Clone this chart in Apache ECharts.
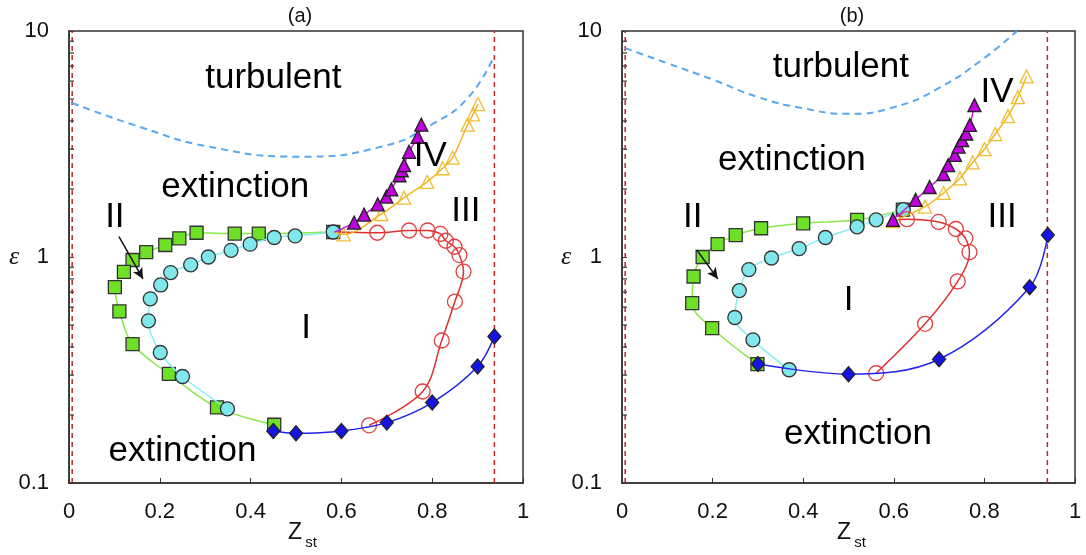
<!DOCTYPE html>
<html>
<head>
<meta charset="utf-8">
<script src="https://cdn.jsdelivr.net/npm/echarts@6/dist/echarts.min.js"></script>
<style>
  html, body { margin: 0; background: #fff; }
  #main { width: 1086px; height: 555px; }
</style>
</head>
<body>
<div id="main"></div>
<script>
// ---- panel (a) data: [Z_st, epsilon] ----
let squaresA = [[0.582, 1.29], [0.418, 1.27], [0.365, 1.27], [0.281, 1.28], [0.243, 1.21], [0.212, 1.13],
  [0.170, 1.05], [0.140, 0.97], [0.121, 0.86], [0.101, 0.735], [0.111, 0.575], [0.140, 0.412],
  [0.220, 0.304], [0.326, 0.216], [0.452, 0.181]];
let circlesA = [[0.582, 1.29], [0.498, 1.24], [0.452, 1.22], [0.399, 1.14], [0.357, 1.07], [0.307, 1.0],
  [0.268, 0.923], [0.224, 0.853], [0.202, 0.752], [0.179, 0.653], [0.175, 0.522], [0.201, 0.378],
  [0.250, 0.296], [0.349, 0.213]];
let openCirclesA = [[0.679, 1.28], [0.749, 1.31], [0.790, 1.31], [0.818, 1.265], [0.830, 1.18], [0.849, 1.11],
  [0.860, 1.02], [0.869, 0.862], [0.850, 0.635], [0.821, 0.427], [0.779, 0.254], [0.661, 0.180]];
let trianglesA = [[0.628, 1.42], [0.650, 1.54], [0.680, 1.71], [0.699, 1.85], [0.710, 1.99], [0.728, 2.30],
  [0.733, 2.42], [0.738, 2.55], [0.749, 2.92], [0.768, 3.40], [0.776, 3.85]];
let openTrianglesA = [[0.605, 1.26], [0.688, 1.55], [0.738, 1.83], [0.789, 2.15], [0.823, 2.47], [0.845, 2.75],
  [0.878, 3.85], [0.890, 4.28], [0.901, 4.75]];
let diamondsA = [[0.45, 0.170], [0.5, 0.166], [0.6, 0.170], [0.7, 0.185], [0.8, 0.227], [0.9, 0.328], [0.937, 0.445]];
let turbA = [[0.007, 4.8], [0.155, 3.77], [0.307, 3.08], [0.506, 2.78], [0.689, 3.08], [0.803, 3.9], [0.880, 5.1], [0.937, 7.8]];
let junctionA = [0.585, 1.29];
let limitsA = [0.007, 0.937];

// ---- panel (b) data ----
let squaresB = [[0.620, 1.62], [0.519, 1.46], [0.400, 1.41], [0.307, 1.34], [0.251, 1.25], [0.211, 1.14],
  [0.178, 1.00], [0.158, 0.82], [0.155, 0.625], [0.199, 0.484], [0.299, 0.336]];
let circlesB = [[0.621, 1.62], [0.561, 1.46], [0.519, 1.36], [0.449, 1.22], [0.391, 1.09], [0.330, 0.99],
  [0.280, 0.88], [0.259, 0.71], [0.249, 0.54], [0.289, 0.43], [0.369, 0.317]];
let openCirclesB = [[0.629, 1.47], [0.699, 1.43], [0.737, 1.33], [0.758, 1.21], [0.767, 1.05], [0.741, 0.78],
  [0.669, 0.506], [0.561, 0.306]];
let trianglesB = [[0.598, 1.46], [0.648, 1.79], [0.679, 2.04], [0.710, 2.33], [0.720, 2.55], [0.735, 2.83],
  [0.743, 3.08], [0.751, 3.29], [0.760, 3.52], [0.768, 3.84], [0.778, 4.70]];
let openTrianglesB = [[0.598, 1.44], [0.669, 1.67], [0.710, 1.92], [0.746, 2.23], [0.774, 2.62], [0.800, 3.0],
  [0.824, 3.50], [0.852, 4.2], [0.874, 5.1], [0.893, 6.3]];
let diamondsB = [[0.3, 0.336], [0.5, 0.303], [0.7, 0.353], [0.9, 0.735], [0.94, 1.25]];
let turbB = [[0.007, 8.4], [0.1, 7.2], [0.2, 6.1], [0.3, 5.1], [0.4, 4.55], [0.5, 4.3], [0.6, 4.6],
  [0.7, 5.6], [0.8, 7.6], [0.872, 10]];
let junctionB = [0.598, 1.46];
let limitsB = [0.007, 0.939];

// region labels [x, y, text] and the "II" arrows
let textA = [[0.450, 6.19, 'turbulent'], [0.366, 2.04, 'extinction'], [0.250, 0.138, 'extinction'],
  [0.101, 1.50, 'II'], [0.874, 1.60, 'III'], [0.796, 2.80, 'IV'], [0.522, 0.481, 'I']];
let textB = [[0.483, 6.92, 'turbulent'], [0.375, 2.67, 'extinction'], [0.521, 0.165, 'extinction'],
  [0.156, 1.50, 'II'], [0.839, 1.50, 'III'], [0.828, 5.34, 'IV'], [0.5, 0.646, 'I']];
let arrowA = [[0.110, 1.23], [0.163, 0.80]];
let arrowB = [[0.165, 1.075], [0.2115, 0.80]];

let xTicks = [0, 0.2, 0.4, 0.6, 0.8, 1];
let minorTicks = [0.2, 0.3, 0.4, 0.5, 0.6, 0.7, 0.8, 0.9, 2, 3, 4, 5, 6, 7, 8, 9];

let myChart = echarts.init(document.getElementById('main'));
const axisColor = '#333';
const textColor = '#111';
const font = 'Liberation Sans, Arial, sans-serif';

function xAxisFor(i) {
  return {
    type: 'value', gridIndex: i, min: 0, max: 1, interval: 0.2,
    axisLine: { lineStyle: { color: axisColor, width: 1.5 } },
    axisTick: { inside: true, length: 5, lineStyle: { color: axisColor } },
    axisLabel: { fontSize: 22, color: textColor, fontFamily: font, margin: 18,
      formatter: v => (xTicks.includes(v) ? String(v) : '') },
    splitLine: { show: false }
  };
}
function yAxisFor(i) {
  return {
    type: 'log', gridIndex: i, logBase: 10, min: 0.1, max: 10,
    axisLine: { lineStyle: { color: axisColor, width: 1.5 } },
    axisTick: { inside: true, length: 5, lineStyle: { color: axisColor } },
    axisLabel: { fontSize: 22, color: textColor, fontFamily: font, margin: 20, formatter: v => String(v) },
    splitLine: { show: false }
  };
}

function lineSeries(i, data, color, symbol, size, fill, border, z) {
  return {
    type: 'line', xAxisIndex: i, yAxisIndex: i, data: data, smooth: 0.35,
    symbol: symbol, symbolSize: size, showAllSymbol: true, z: z,
    lineStyle: { color: color, width: 1.5 },
    itemStyle: { color: fill, borderColor: border, borderWidth: 1.3 }
  };
}

function panel(i, d) {
  const withStart = (start, arr) => [{ value: start, symbol: 'none' }].concat(arr);
  return [
    // red dashed limits
    { type: 'line', xAxisIndex: i, yAxisIndex: i, symbol: 'none', z: 1,
      data: [[d.limits[0], 0.1], [d.limits[0], 10]], lineStyle: { color: '#b52a2a', type: [5, 4], width: 1.5 } },
    { type: 'line', xAxisIndex: i, yAxisIndex: i, symbol: 'none', z: 1,
      data: [[d.limits[1], 0.1], [d.limits[1], 10]], lineStyle: { color: '#b52a2a', type: [5, 4], width: 1.5 } },
    // turbulent boundary
    { type: 'line', xAxisIndex: i, yAxisIndex: i, symbol: 'none', smooth: 0.5, z: 2,
      data: d.turb, lineStyle: { color: '#5aa8ee', type: [7, 5], width: 2 } },
    // minor ticks on the log axis
    { type: 'scatter', xAxisIndex: i, yAxisIndex: i, silent: true, clip: false, z: 3,
      data: minorTicks.map(v => [0, v]), symbol: 'rect', symbolSize: [5, 1.5], symbolOffset: [2.5, 0],
      itemStyle: { color: axisColor } },
    lineSeries(i, d.squares, '#8be84a', 'rect', 13, '#6fe028', '#333', 4),
    lineSeries(i, d.circles, '#86eef0', 'circle', 14, '#80e8ec', '#333', 5),
    lineSeries(i, d.redStart ? withStart(d.redStart, d.openCircles) : d.openCircles,
      '#dd3030', 'circle', 15, 'rgba(255,255,255,0)', '#e04040', 6),
    lineSeries(i, d.ylwStart ? withStart(d.ylwStart, d.openTriangles) : d.openTriangles,
      '#f0b429', 'triangle', 13, 'rgba(255,255,255,0)', '#f0bc30', 7),
    lineSeries(i, d.magStart ? withStart(d.magStart, d.triangles) : d.triangles,
      '#cc20dd', 'triangle', 13, '#c000dd', '#222', 8),
    lineSeries(i, d.diamonds, '#2222ee', 'diamond', [13, 15], '#1414e6', '#222', 9),
    // region labels + arrow
    { type: 'scatter', xAxisIndex: i, yAxisIndex: i, silent: true, z: 10,
      symbolSize: 1, itemStyle: { color: '#fff', opacity: 0 },
      data: d.text.map(t => ({ value: [t[0], t[1]], name: t[2] })),
      label: { show: true, position: 'inside', formatter: '{b}', fontSize: 35, color: '#000',
        opacity: 1, textBorderWidth: 0, fontFamily: font },
      markLine: { silent: true, symbol: ['none', 'arrow'], symbolSize: [8, 11],
        lineStyle: { color: '#111', width: 1.5, type: 'solid', opacity: 1 }, label: { show: false },
        data: [[{ coord: d.arrow[0] }, { coord: d.arrow[1] }]] } }
  ];
}

let series = panel(0, { limits: limitsA, turb: turbA, squares: squaresA, circles: circlesA,
  openCircles: openCirclesA, redStart: junctionA, openTriangles: openTrianglesA, ylwStart: junctionA,
  triangles: trianglesA, magStart: junctionA, diamonds: diamondsA, text: textA, arrow: arrowA })
  .concat(panel(1, { limits: limitsB, turb: turbB, squares: squaresB, circles: circlesB,
  openCircles: openCirclesB, redStart: junctionB, openTriangles: openTrianglesB, ylwStart: null,
  triangles: trianglesB, magStart: null, diamonds: diamondsB, text: textB, arrow: arrowB }));

const txt = (x, y, s, size, extra) => ({ type: 'text', x: x, y: y,
  style: Object.assign({ text: s, fontSize: size, fontFamily: font, fill: textColor, align: 'center', verticalAlign: 'middle' }, extra || {}) });

let options = {
  animation: false,
  backgroundColor: '#fff',
  grid: [
    { left: 69, top: 31, width: 454, height: 452, show: true, borderColor: axisColor, borderWidth: 1.5 },
    { left: 622, top: 31, width: 453, height: 452, show: true, borderColor: axisColor, borderWidth: 1.5 }
  ],
  xAxis: [xAxisFor(0), xAxisFor(1)],
  yAxis: [yAxisFor(0), yAxisFor(1)],
  series: series,
  graphic: [
    txt(300, 16, '(a)', 20),
    txt(852, 16, '(b)', 20),
    txt(14, 257, 'ε', 26, { fontFamily: 'Liberation Serif, serif', fontStyle: 'italic' }),
    txt(566, 257, 'ε', 26, { fontFamily: 'Liberation Serif, serif', fontStyle: 'italic' }),
    txt(295, 533, 'Z', 23),
    txt(311, 543, 'st', 15),
    txt(844, 533, 'Z', 23),
    txt(860, 543, 'st', 15)
  ]
};

myChart.setOption(options);
</script>
</body>
</html>
